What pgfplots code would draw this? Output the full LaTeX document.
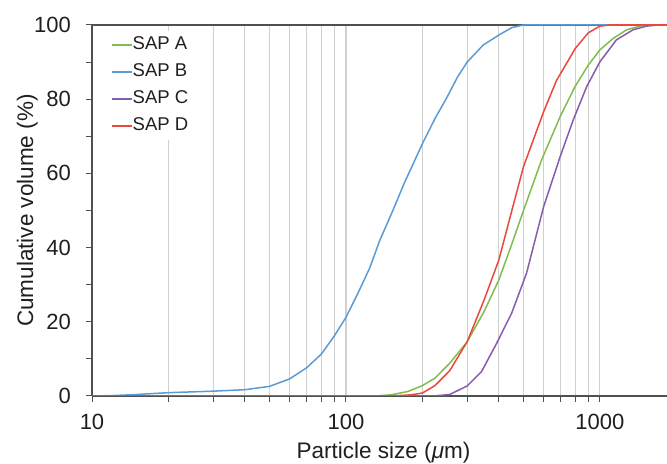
\documentclass[border=0pt]{standalone}
\usepackage{fontspec}
\setmainfont{Liberation Sans}
\usepackage{pgfplots}
\pgfplotsset{compat=1.18}

\definecolor{sapA}{RGB}{128,188,78}
\definecolor{sapB}{RGB}{91,155,213}
\definecolor{sapC}{RGB}{135,92,172}
\definecolor{sapD}{RGB}{234,72,62}
\definecolor{axisgray}{RGB}{80,80,80}
\definecolor{gridgray}{RGB}{208,208,208}

\begin{document}
\begin{tikzpicture}
\begin{axis}[
  name=ax,
  scale only axis,
  width=575bp, height=371bp,
  xmode=log,
  xmin=10, xmax=1837,
  ymin=0, ymax=100,
  axis x line*=box,
  axis y line*=left,
  axis line style={-, draw=axisgray, line width=1.1bp},
  xtick={10,100,1000},
  xticklabels={10,100,1000},
  minor xtick={20,30,40,50,60,70,80,90,200,300,400,500,600,700,800,900},
  ytick={0,20,40,60,80,100},
  minor ytick={10,30,50,70,90},
  xtick pos=bottom, ytick pos=left,
  tick align=outside,
  major tick length=6bp, minor tick length=6bp,
  tick style={draw=axisgray, line width=1bp},
  xmajorgrids, xminorgrids,
  major grid style={draw=gridgray, line width=1.1bp},
  minor grid style={draw=gridgray, line width=1.1bp},
  /pgf/number format/assume math mode=true,
  tick label style={font=\fontsize{22bp}{26bp}\selectfont, text=black!88},
  xticklabel style={anchor=base, inner sep=0pt, yshift=-28bp},
  yticklabel style={anchor=east, inner sep=0pt, xshift=-15bp},
  every axis x label/.style={at={(rel axis cs:0.507,-0.1698)}, anchor=base,
    font=\fontsize{22.5bp}{26bp}\selectfont, text=black!88},
  every axis y label/.style={at={(rel axis cs:-0.1026,0.5)}, rotate=90, anchor=base,
    font=\fontsize{22.5bp}{26bp}\selectfont, text=black!88},
  xlabel={Particle size (\textit{μ}m)},
  ylabel={Cumulative volume (\%)},
  legend cell align=left,
  legend image code/.code={\draw[#1, line width=1.5bp] (0bp,0bp) -- (20bp,0bp);},
  legend style={at={(0,1)}, anchor=north west, xshift=13bp, yshift=-5.6bp,
    draw=none, fill=white, inner sep=6bp, row sep=11bp,
    font=\fontsize{18.5bp}{22bp}\selectfont, text=black!88,
    nodes={inner sep=0pt, text height=13bp, text depth=3bp},
    /tikz/column 2/.style={column sep=0pt}},
  every axis plot/.append style={line width=1.5bp, line join=round},
  clip=true,
]

% SAP A
\addplot[sapA] coordinates {
 (10,0) (130,0) (150,0.3) (175,1.2) (200,2.8) (224,4.8) (256,8.8) (300,14.6)
 (350,22.8) (400,31.3) (450,41) (500,50) (589,63.6) (697,75.3) (798,83.4)
 (900,89.2) (1000,93.3) (1128,96.4) (1273,98.7) (1436,99.7) (1600,100) (2000,100)
};
\addlegendentry{SAP A}

% SAP B
\addplot[sapB] coordinates {
 (10,0) (12,0.1) (15,0.4) (20,0.9) (30,1.3) (40,1.7) (50,2.6) (60,4.6)
 (70,7.6) (80,11.3) (90,16.2) (100,21.2) (112,28) (124,34.5) (136,42) (153,50)
 (170,57.5) (200,68) (225,75) (249,80.3) (275,86) (300,90) (347,94.6) (400,97.3) (450,99.3)
 (500,100) (2000,100)
};
\addlegendentry{SAP B}

% SAP C
\addplot[sapC] coordinates {
 (10,0) (220,0) (256,0.4) (300,2.7) (342,6.6) (392,14.2) (449,22.3)
 (514,33.1) (600,51) (697,64.5) (785,74.4) (887,83.4) (1000,90.1)
 (1161,96) (1350,98.7) (1527,99.7) (1700,100) (2000,100)
};
\addlegendentry{SAP C}

% SAP D
\addplot[sapD] coordinates {
 (10,0) (150,0) (180,0.3) (200,0.8) (224,2.8) (256,6.8) (300,14.6)
 (350,25.9) (400,36.7) (456,51.5) (500,61.8) (600,76.6) (674,85)
 (800,93.7) (900,97.9) (1000,99.7) (1100,100) (2000,100)
};
\addlegendentry{SAP D}

\end{axis}
\pgfresetboundingbox
\path ([xshift=-92bp,yshift=-68bp]ax.south west) rectangle ([yshift=25bp]ax.north east);
\end{tikzpicture}
\end{document}
